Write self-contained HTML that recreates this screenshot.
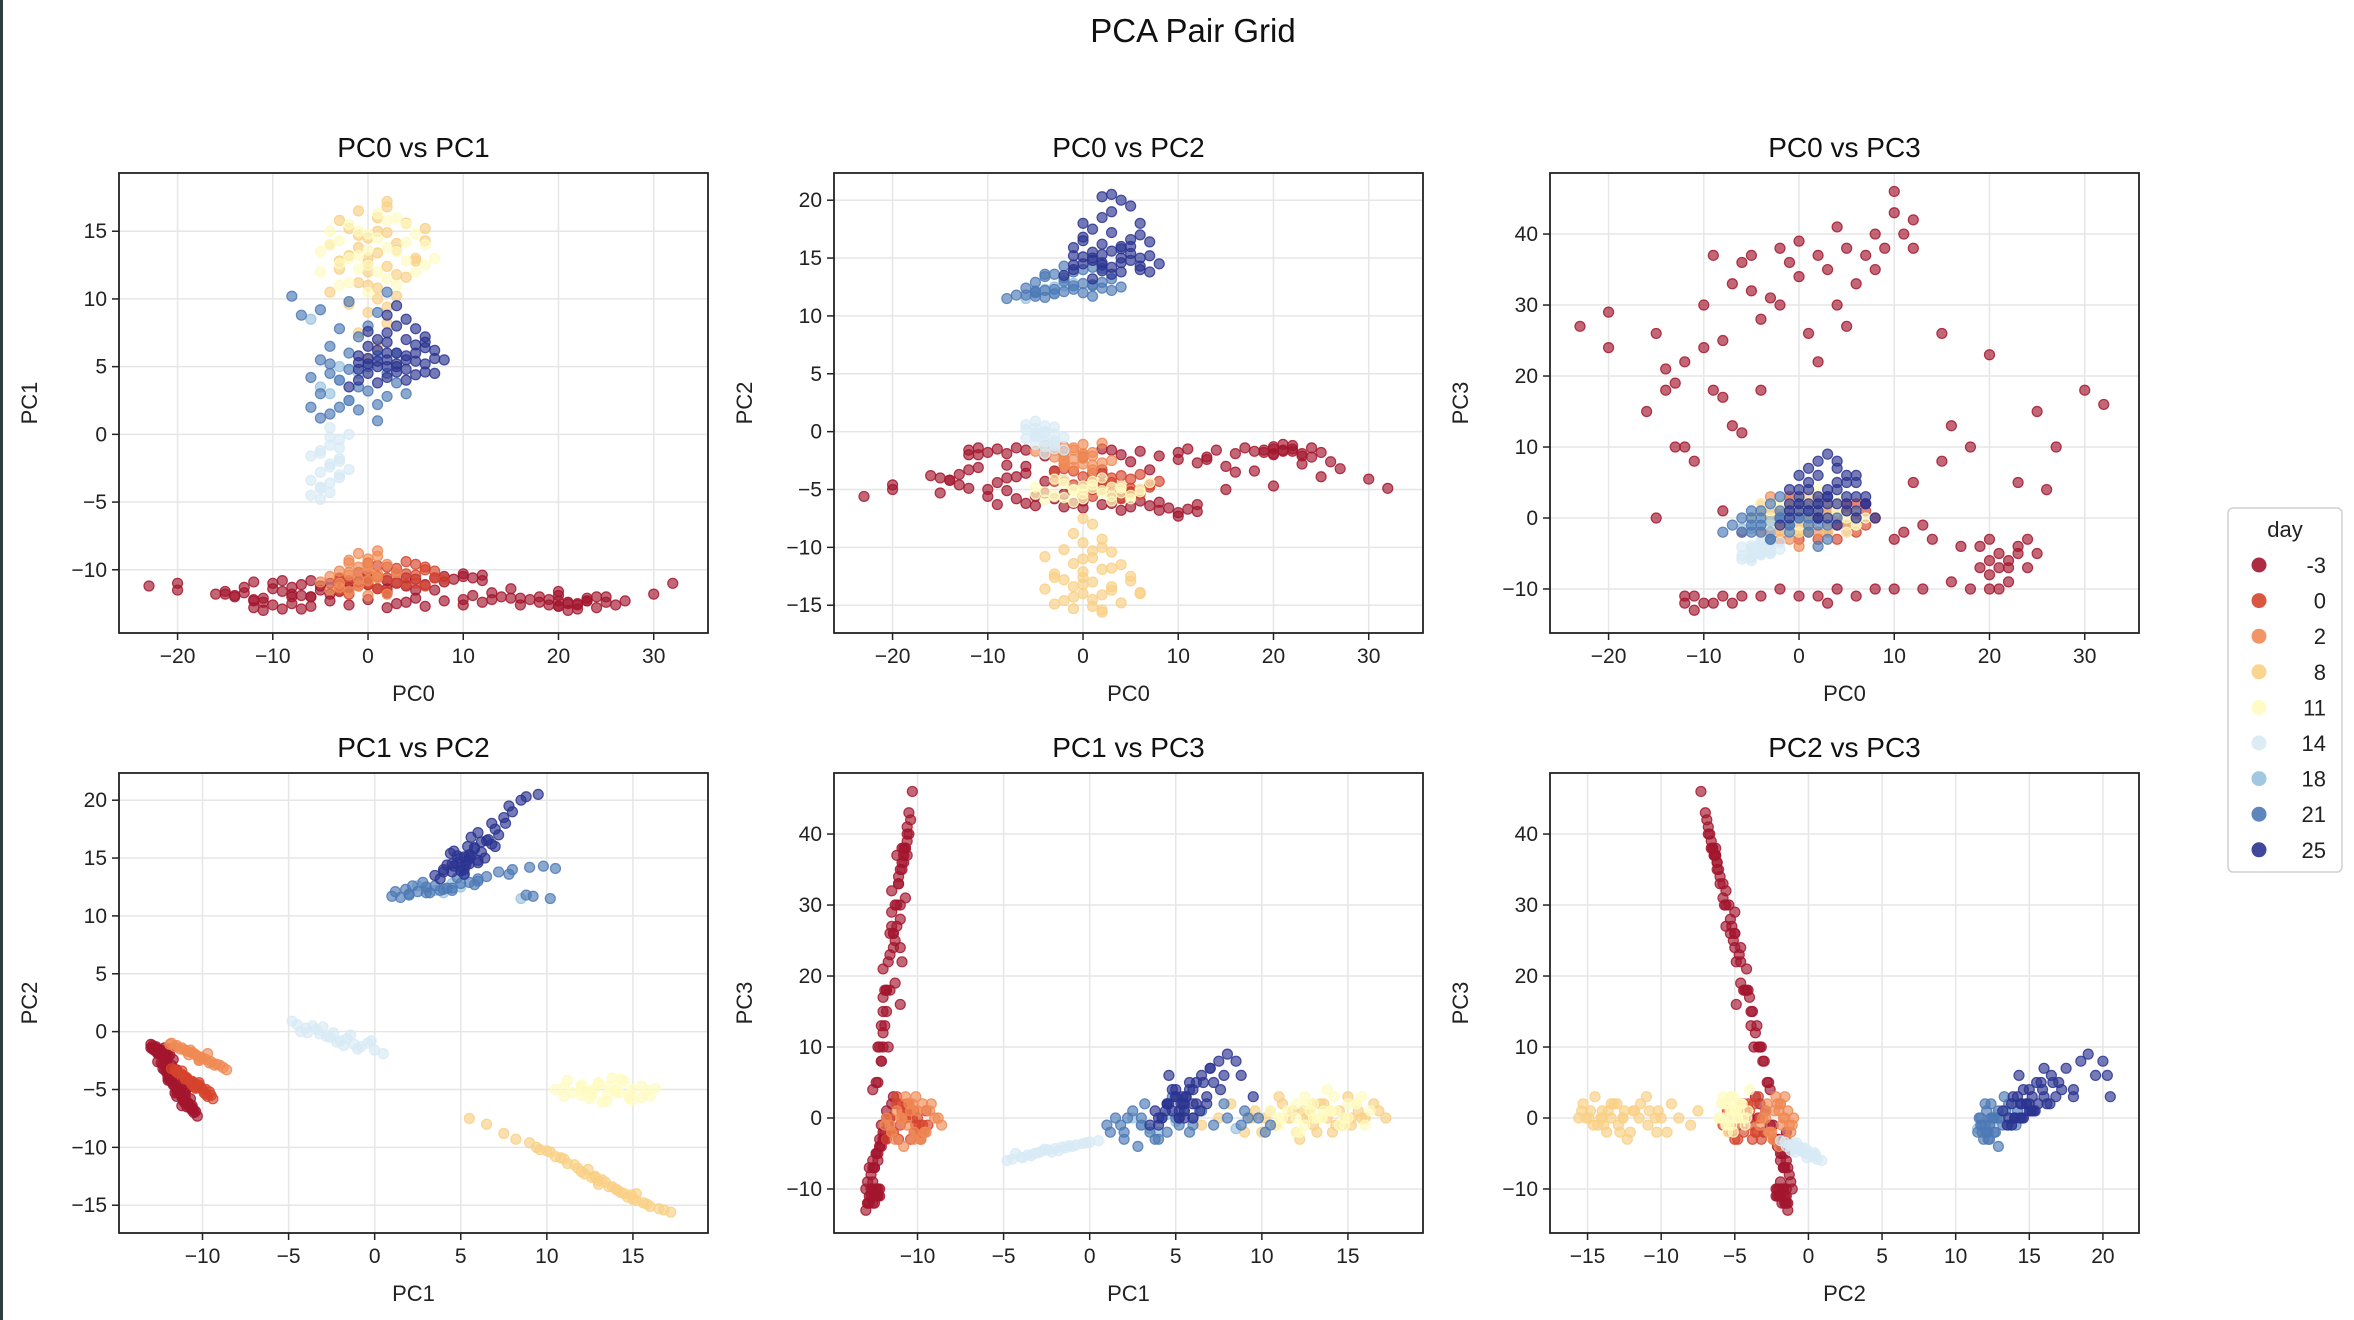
<!DOCTYPE html>
<html><head><meta charset="utf-8"><title>PCA Pair Grid</title>
<style>
html,body{margin:0;padding:0;background:#fff;}
svg{display:block;font-family:"Liberation Sans","DejaVu Sans",sans-serif;}
</style></head>
<body>
<svg id="chart" width="2354" height="1320" viewBox="0 0 2354 1320" xmlns="http://www.w3.org/2000/svg">
<rect x="0" y="0" width="2354" height="1320" fill="#fff"/>
<rect x="0" y="0" width="3" height="1320" fill="#2f3f3f"/>
<text x="1193" y="42" font-size="33" text-anchor="middle" fill="#111">PCA Pair Grid</text>
</svg>
<script>
// ---- data: each point is [PC0, PC1, PC2, PC3] ----
const days = ["-3","0","2","8","11","14","18","21","25"];
const dayColors = ["#a3162e","#d5442c","#ef8a55","#f9d084","#fefbc0","#d7eaf4","#98c2de","#4d79b6","#2b3491"];
const ptsDayM3 = [[-23,-11.2,-5.6,27],[-20,-11.5,-5.0,29],[-20,-11.0,-4.6,24],[-15,-11.6,-5.3,26],[-14,-12.0,-4.2,21],[-13,-11.3,-4.6,19],[-12,-10.9,-4.9,22],[-12,-12.2,-3.3,10],[-13,-11.7,-3.7,10],[-11,-12.1,-3.1,8],[-10,-11.0,-5.6,30],[-10,-11.4,-5.0,24],[-9,-11.6,-4.4,18],[-8,-12.0,-4.0,17],[-7,-11.1,-5.8,33],[-7,-11.9,-3.9,13],[-6,-10.8,-6.2,36],[-5,-11.2,-6.4,37],[-5,-11.5,-5.6,32],[-4,-11.0,-5.3,28],[-3,-10.7,-5.8,31],[-2,-10.9,-6.5,38],[-2,-11.3,-5.4,30],[0,-10.6,-6.6,39],[0,-11.1,-6.0,34],[1,-11.4,-5.0,26],[2,-10.8,-6.3,37],[2,-11.7,-4.6,22],[3,-11.0,-6.2,35],[4,-11.2,-5.7,30],[5,-11.5,-5.2,27],[5,-10.7,-6.5,38],[6,-11.1,-6.0,33],[7,-10.6,-6.4,37],[8,-10.9,-6.1,35],[8,-10.5,-6.8,40],[9,-10.7,-6.6,38],[10,-10.3,-7.3,46],[10,-10.5,-7.0,43],[11,-10.6,-6.7,40],[12,-10.4,-6.9,42],[12,-10.8,-6.3,38],[-6,-12.0,-3.6,12],[-4,-11.8,-4.3,18],[-8,-11.3,-5.1,25],[-14,-11.9,-4.2,18],[15,-11.4,-5.0,26],[16,-12.1,-3.5,13],[20,-11.6,-4.7,23],[25,-12.0,-3.9,15],[27,-12.3,-3.2,10],[30,-11.8,-4.1,18],[32,-11.0,-4.9,16],[23,-12.3,-2.8,5],[26,-12.6,-2.6,4],[15,-12.1,-3.0,8],[12,-12.4,-2.7,5],[18,-12.0,-3.4,10],[-16,-11.8,-3.8,15],[-9,-10.8,-6.3,37],[-1,-10.9,-6.2,36],[4,-10.6,-6.8,41],
[-12,-12.8,-1.6,-12],[-11,-13.0,-1.4,-13],[-10,-12.6,-1.8,-12],[-11,-12.4,-2.0,-11],[-9,-12.9,-1.5,-12],[-8,-12.5,-1.9,-11],[-6,-12.7,-1.6,-11],[-4,-12.3,-2.1,-11],[-2,-12.6,-1.7,-10],[0,-12.2,-2.2,-11],[2,-12.8,-1.5,-11],[4,-12.4,-2.0,-10],[6,-12.7,-1.7,-11],[8,-12.3,-2.1,-10],[10,-12.6,-1.8,-10],[-12,-12.3,-2.0,-11],[-7,-12.9,-1.4,-12],[3,-12.5,-1.6,-12],[13,-12.2,-2.2,-10],[16,-12.6,-1.9,-9],[18,-12.4,-1.7,-10],[20,-12.7,-1.5,-10],
[19,-12.2,-1.8,-4],[20,-11.9,-2.0,-3],[21,-12.4,-1.6,-5],[22,-12.6,-1.5,-6],[23,-12.3,-1.9,-5],[24,-12.8,-1.4,-7],[20,-12.7,-1.3,-8],[21,-12.5,-1.7,-7],[22,-12.9,-1.2,-9],[23,-12.1,-2.1,-4],[25,-12.4,-1.8,-5],[21,-13.0,-1.1,-10],[19,-12.6,-1.6,-7],[24,-12.0,-2.2,-3],[22,-12.5,-1.7,-7],[20,-12.3,-1.9,-6],
[-6,-12.0,-3.0,-2],[-3,-11.6,-3.4,0],[2,-11.4,-3.6,3],[5,-12.1,-2.6,-1],[7,-11.5,-3.3,2],[-8,-11.8,-2.9,1],[10,-12.2,-2.4,-3],[11,-11.9,-1.5,-2],[14,-12.0,-1.6,-3],[17,-12.2,-1.4,-4],[13,-11.7,-2.4,-1],[-15,-11.8,-4.0,0]];
const ptsDay0 = [[-3,-11.5,-3.5,-2],[-2,-10.8,-4.2,0],[-1,-10.2,-4.6,1],[0,-11.0,-3.9,-1],[1,-10.5,-4.4,2],[2,-9.8,-5.0,-3],[3,-10.9,-4.0,1],[4,-10.3,-4.7,0],[5,-9.6,-5.2,-2],[6,-11.2,-3.7,2],[7,-10.1,-4.8,-1],[8,-10.7,-4.3,0],[-2,-11.8,-3.2,-3],[0,-9.5,-5.5,1],[1,-11.4,-3.6,-2],[2,-10.6,-4.5,2],[3,-9.9,-5.3,-1],[4,-11.1,-3.8,-3],[5,-10.4,-4.9,1],[6,-10.0,-5.0,0],[-1,-11.2,-3.4,3],[1,-9.7,-5.6,-1],[3,-10.2,-4.4,-2],[5,-11.0,-4.1,2],[7,-10.6,-4.6,1],[0,-10.4,-4.8,-3],[2,-11.6,-3.3,0],[4,-9.4,-5.8,-1],[-3,-10.6,-4.3,1],[6,-9.8,-5.4,-2]];
const ptsDay2 = [[-4,-11.5,-1.2,-2],[-3,-11.0,-1.6,0],[-2,-10.4,-2.0,1],[-1,-9.8,-2.4,-3],[0,-9.2,-2.8,2],[1,-10.6,-1.8,-1],[2,-11.8,-1.0,0],[-3,-10.1,-2.2,3],[-2,-9.5,-2.6,-2],[-1,-11.2,-1.4,1],[0,-10.8,-2.0,-4],[1,-9.0,-2.9,0],[-4,-10.5,-1.9,2],[-2,-11.6,-1.3,-1],[0,-10.0,-2.3,1],[2,-9.6,-2.7,-2],[-1,-8.8,-3.1,0],[-3,-11.3,-1.5,-3],[1,-10.3,-2.1,2],[-5,-10.9,-1.7,0],[0,-11.9,-1.1,-1],[-2,-9.3,-2.9,1],[3,-10.2,-2.5,-2],[-1,-10.7,-1.6,3],[1,-8.6,-3.3,-1],[-2,-10.2,-2.4,-3],[0,-9.7,-1.9,2]];
const ptsDay8 = [[0,5.5,-7.5,1],[1,6.5,-8.0,-1],[-1,7.5,-8.8,0],[2,8.2,-9.3,2],[0,9.0,-9.6,-2],[-2,9.6,-10.2,1],[3,10.2,-10.4,0],[1,10.8,-10.9,-1],[-1,11.2,-11.4,2],[4,11.6,-11.5,0],[0,12.0,-12.1,-2],[2,12.4,-11.9,1],[-3,12.8,-12.6,0],[5,13.0,-12.9,-1],[1,13.4,-13.0,2],[-1,13.8,-13.4,0],[3,14.1,-13.7,-2],[0,14.5,-14.0,1],[2,14.9,-14.1,0],[-2,15.2,-14.6,-1],[4,15.6,-14.8,1],[1,16.0,-15.1,0],[-1,16.5,-15.3,2],[2,17.2,-15.6,0],[0,11.0,-11.0,3],[-3,12.2,-12.3,-3],[3,13.6,-13.4,2],[6,14.3,-13.9,-1],[-4,10.5,-10.8,1],[2,9.4,-10.0,0],[1,15.0,-14.5,3],[-2,13.2,-12.8,-2],[0,12.6,-12.6,0],[3,11.8,-11.8,1],[-1,14.7,-14.3,-1],[5,12.8,-12.5,1],[1,10.0,-10.3,-2],[-3,15.8,-14.9,0],[2,16.8,-15.4,1],[0,13.0,-13.2,2],[6,15.2,-14.0,0],[-4,14.0,-13.6,1]];
const ptsDay11 = [[-5,12,-4.8,0],[-4,14,-5.2,1],[-3,11,-5.6,-1],[-2,13,-4.5,2],[-1,15,-5.0,0],[0,12.5,-5.8,3],[1,14.5,-4.3,-1],[2,11.5,-5.3,1],[3,13.5,-6.0,0],[4,15.5,-4.7,2],[5,12,-5.5,-2],[6,14,-5.0,1],[7,13,-4.4,0],[-4,15,-5.9,2],[-2,11.2,-4.2,0],[0,14.8,-5.4,-1],[2,15.8,-5.1,3],[4,12.8,-4.9,1],[-1,13.2,-6.1,0],[1,12.0,-4.6,2],[3,16.0,-5.6,-1],[-3,14.3,-4.1,1],[5,14.8,-5.8,0],[0,10.5,-5.0,1],[2,13.8,-4.0,4],[-5,13.5,-5.4,0],[6,12.5,-5.2,-1],[1,16.3,-4.9,1],[-2,15.5,-5.7,2],[3,11.0,-4.8,0],[-1,12.2,-5.1,-2],[4,14.2,-5.3,3],[0,13.6,-4.7,1],[-3,12.6,-5.5,2]];
const ptsDay14 = [[-6,-4.5,0.6,-5.8],[-5,-4.0,0.3,-5.5],[-4,-3.6,0.5,-5.2],[-3,-3.2,-0.2,-5.0],[-5,-2.8,-0.4,-4.7],[-4,-2.4,-0.1,-4.5],[-3,-2.0,-0.8,-4.3],[-6,-1.6,-0.6,-4.1],[-5,-1.2,-1.1,-3.9],[-4,-0.8,-1.3,-3.8],[-3,-0.4,-1.0,-3.6],[-2,0.0,-1.6,-3.4],[-4,0.5,-1.9,-3.2],[-5,-3.9,-0.1,-5.6],[-3,-3.0,0.4,-4.9],[-4,-2.2,-0.9,-4.8],[-5,-1.4,-0.3,-4.2],[-3,-1.0,-1.5,-4.0],[-4,-0.2,-0.8,-3.5],[-5,-4.8,0.9,-6.0],[-2,-2.6,-0.5,-4.4],[-6,-3.4,0.2,-5.3],[-4,-4.3,0.0,-5.0],[-3,-1.8,-1.2,-4.6]];
const ptsDay18 = [[-4,3,12.3,-1],[-3,4,12.0,-2],[-2,2.5,12.6,0],[-5,3.5,12.2,-1.5],[-1,4.5,12.8,0.5],[-3,5,12.5,-0.5],[-6,8.5,11.5,-1.5]];
const ptsDay21 = [[-6,2.0,11.8,-2],[-5,3.0,12.0,-1],[-4,1.5,11.6,0],[-3,4.0,12.3,-3],[-2,2.5,12.1,1],[-1,3.5,12.6,-2],[0,5.0,12.8,0],[1,1.0,11.7,-1],[2,4.5,12.4,2],[3,6.0,13.2,-1],[4,3.0,12.5,0],[-5,5.5,12.9,1],[-4,4.5,12.2,-2],[-3,2.0,11.9,-3],[-2,6.0,13.0,0],[-1,1.8,12.3,-1],[0,3.2,12.0,2],[1,5.8,12.7,-2],[2,2.8,12.9,-4],[-6,4.2,12.4,0],[-4,6.5,13.4,1],[-1,7.2,13.8,-1],[0,8.0,14.0,0],[1,9.0,14.2,1],[-2,9.8,14.3,0],[2,10.5,14.1,-1],[-3,7.8,13.6,2],[-7,8.8,11.8,-1],[-8,10.2,11.5,-2],[-5,9.2,11.7,0],[3,3.8,12.2,-3],[-2,4.8,13.3,3],[1,2.2,12.6,0],[-4,5.2,13.6,-1],[-5,1.2,12.1,-2]];
const ptsDay25 = [[-1,4.0,14.0,0],[0,4.5,14.5,2],[1,5.0,15.0,4],[2,5.5,15.3,1],[3,5.0,14.2,3],[4,5.8,15.8,5],[5,6.0,14.8,2],[6,5.2,14.0,0],[7,5.6,15.2,3],[0,6.5,16.5,6],[1,7.0,17.5,7],[2,7.5,18.5,8],[3,8.0,19.0,9],[4,8.5,20.0,8],[5,7.8,19.5,6],[6,7.2,17.0,5],[-2,3.5,13.5,-1],[1,3.8,13.2,1],[2,4.2,14.4,0],[3,4.6,15.6,2],[4,4.8,14.6,4],[5,5.4,16.0,3],[6,6.4,15.0,1],[7,4.5,13.8,2],[8,5.5,14.5,0],[0,5.6,16.8,3],[1,6.2,15.5,5],[2,6.8,16.2,2],[3,6.0,17.2,4],[4,7.0,16.0,7],[5,4.4,15.4,1],[-1,5.8,15.9,4],[2,8.8,20.3,6],[3,5.2,13.6,0],[6,6.8,18.0,3],[4,4.0,13.8,-1],[1,5.4,14.8,2],[5,6.6,16.6,5],[0,7.6,18.0,4],[7,6.2,16.4,2],[3,9.5,20.5,3],[-1,4.8,15.2,1],[2,5.0,13.9,3],[6,4.6,14.3,6],[0,5.2,15.1,1],[4,5.5,15.0,2],[2,6.0,14.6,0],[-1,5.3,14.4,2]];
const allPoints = [ptsDayM3, ptsDay0, ptsDay2, ptsDay8, ptsDay11, ptsDay14, ptsDay18, ptsDay21, ptsDay25];

// ---- axes config ----
const pc0Ticks = [-20,-10,0,10,20,30];
const pc1Ticks = [-10,-5,0,5,10,15];
const pc2Ticks = [-15,-10,-5,0,5,10,15,20];
const pc3Ticks = [-10,0,10,20,30,40];
const dimDomainY = {1:[-14.67,19.3],2:[-17.4,22.35],3:[-16.2,48.6]};
const dimDomainX = {0:[-26.15,35.7],1:[-14.85,19.36],2:[-17.55,22.45]};
const dimTicks = {0:pc0Ticks,1:pc1Ticks,2:pc2Ticks,3:pc3Ticks};
const panels = [
  {xd:0,yd:1,x:119,y:173,col:0,row:0},
  {xd:0,yd:2,x:834,y:173,col:1,row:0},
  {xd:0,yd:3,x:1550,y:173,col:2,row:0},
  {xd:1,yd:2,x:119,y:773,col:0,row:1},
  {xd:1,yd:3,x:834,y:773,col:1,row:1},
  {xd:2,yd:3,x:1550,y:773,col:2,row:1}
];
const PW = 589, PH = 460;
const NS = "http://www.w3.org/2000/svg";
const svg = document.getElementById('chart');
function mk(tag, attrs, parent){
  const e = document.createElementNS(NS, tag);
  for (const k in attrs) e.setAttribute(k, attrs[k]);
  (parent||svg).appendChild(e);
  return e;
}
panels.forEach((p, pi) => {
  const xdom = dimDomainX[p.xd];
  const ydom = dimDomainY[p.yd];
  const sx = v => p.x + (v - xdom[0]) / (xdom[1]-xdom[0]) * PW;
  const sy = v => p.y + PH - (v - ydom[0]) / (ydom[1]-ydom[0]) * PH;
  const g = mk('g', {});
  
  
  const title = mk('text', {x:p.x+PW/2, y:p.y-16, 'font-size':28, 'text-anchor':'middle', fill:'#111'}, g);
  title.textContent = 'PC'+p.xd+' vs PC'+p.yd;
  
  
  const clipId = 'clip'+pi;
  const cp = mk('clipPath', {id:clipId}, g);
  mk('rect', {x:p.x, y:p.y, width:PW, height:PH}, cp);
  dimTicks[p.xd].forEach(t => {
    const X = sx(t);
    const gl = mk('line', {x1:X, x2:X, y1:p.y, y2:p.y+PH, stroke:'#e6e6e6', 'stroke-width':1.5}, g);
    
    
    mk('line', {x1:X, x2:X, y1:p.y+PH, y2:p.y+PH+7, stroke:'#222', 'stroke-width':1.5}, g);
    const tl = mk('text', {x:X, y:p.y+PH+30, 'font-size':21, 'text-anchor':'middle', fill:'#222'}, g);
    tl.textContent = (t<0?'\u2212'+(-t):t);
    
    
  });
  dimTicks[p.yd].forEach(t => {
    const Y = sy(t);
    if (Y < p.y || Y > p.y+PH) return;
    const gl = mk('line', {x1:p.x, x2:p.x+PW, y1:Y, y2:Y, stroke:'#e6e6e6', 'stroke-width':1.5}, g);
    
    
    mk('line', {x1:p.x-7, x2:p.x, y1:Y, y2:Y, stroke:'#222', 'stroke-width':1.5}, g);
    const tl = mk('text', {x:p.x-12, y:Y+7, 'font-size':21, 'text-anchor':'end', fill:'#222'}, g);
    tl.textContent = (t<0?'\u2212'+(-t):t);
    
    
  });
  const pg = mk('g', {'clip-path':'url(#'+clipId+')'}, g);
  allPoints.forEach((arr, di) => {
    arr.forEach(pt => {
      const c = mk('circle', {cx:sx(pt[p.xd]), cy:sy(pt[p.yd]), r:5, fill:dayColors[di], 'fill-opacity':0.65, stroke:dayColors[di], 'stroke-opacity':0.85, 'stroke-width':1.2}, pg);
      
      
    });
  });
  const frame = mk('rect', {x:p.x, y:p.y, width:PW, height:PH, fill:'none', stroke:'#222', 'stroke-width':1.8}, g);
  
  
  const xl = mk('text', {x:p.x+PW/2, y:p.y+PH+68, 'font-size':22, 'text-anchor':'middle', fill:'#222'}, g);
  xl.textContent = 'PC'+p.xd;
  
  
  const yx = p.x-82, yy = p.y+PH/2;
  const yl = mk('text', {x:yx, y:yy, 'font-size':22, 'text-anchor':'middle', fill:'#222', transform:'rotate(-90 '+yx+' '+yy+')'}, g);
  yl.textContent = 'PC'+p.yd;
  
  
});
const lg = mk('g', {});


mk('rect', {x:2228, y:508, width:114, height:364, rx:5, fill:'#fff', stroke:'#d0d0d0', 'stroke-width':1.5}, lg);
const lt = mk('text', {x:2285, y:537, 'font-size':22, 'text-anchor':'middle', fill:'#222'}, lg);
lt.textContent = 'day';


days.forEach((d, i) => {
  const Y = 565 + i*35.6;
  const c = mk('circle', {cx:2259, cy:Y, r:7.5, fill:dayColors[i], 'fill-opacity':0.9}, lg);
  
  
  const t = mk('text', {x:2326, y:Y+8, 'font-size':22, 'text-anchor':'end', fill:'#222'}, lg);
  t.textContent = d;
  
  
});
</script>
</body></html>
